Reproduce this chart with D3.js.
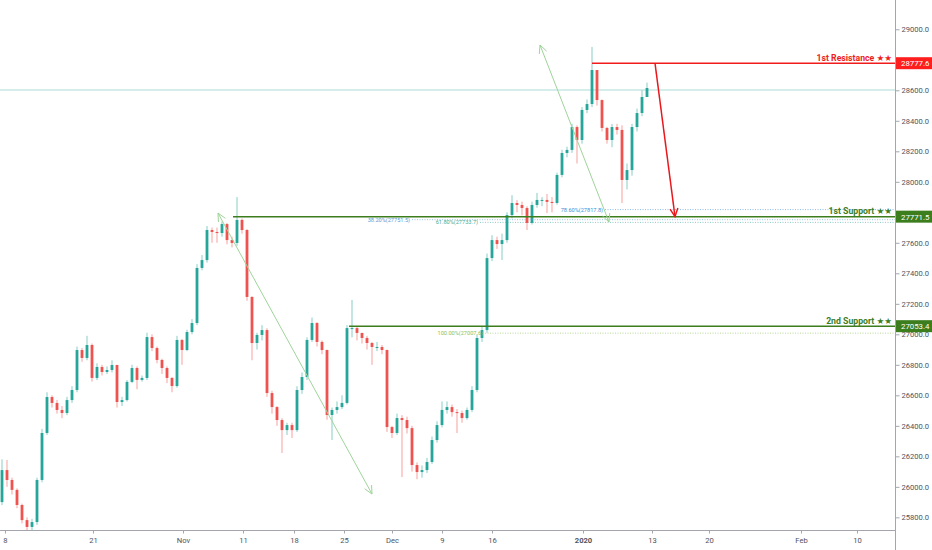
<!DOCTYPE html>
<html>
<head>
<meta charset="utf-8">
<script src="https://cdn.jsdelivr.net/npm/d3@7"></script>
<style>
  html, body { margin: 0; padding: 0; background: #fff; }
  svg { display: block; font-family: Roboto, "DejaVu Sans", sans-serif; }
</style>
</head>
<body>
<div class="chart"></div>
<script>
// US30 candles, one bar = half a trading day
const firstOpen = 25900
const closes = [
  26110, 26045, 25980, 25881, 25782, 25737, 25769, 26045, 26353, 26589,
  26550, 26504, 26484, 26569, 26635, 26897, 26845, 26930, 26714, 26786,
  26753, 26766, 26799, 26556, 26569, 26688, 26779, 26701, 26714, 26982,
  26910, 26832, 26779, 26714, 26661, 26963, 26897, 27015, 27074, 27435,
  27487, 27684, 27671, 27664, 27723, 27618, 27599, 27750, 27684, 27245,
  26943, 26996, 27028, 26615, 26523, 26438, 26372, 26405, 26372, 26635,
  26720, 26963, 27074, 26950, 26897, 26471, 26504, 26523, 26550, 27041,
  27041, 27009, 26976, 26943, 26917, 26917, 26897, 26392, 26353, 26451,
  26438, 26385, 26143, 26097, 26110, 26163, 26307, 26405, 26504, 26523,
  26490, 26484, 26451, 26504, 26635, 26976, 27028, 27500, 27618, 27592,
  27618, 27782, 27861, 27848, 27828, 27730, 27848, 27881, 27881, 27868,
  27861, 28045, 28189, 28209, 28359, 28274, 28471, 28510, 28733, 28536,
  28353, 28274, 28359, 28340, 28012, 28077, 28359, 28451, 28556, 28615
]
const highs = [
  26180, 26176, 26060, 25990, 25890, 25800, 25790, 26060, 26380, 26620,
  26600, 26570, 26530, 26590, 26660, 26920, 26910, 26990, 26940, 26810,
  26800, 26790, 26830, 26800, 26590, 26700, 26800, 26790, 26730, 27010,
  27000, 26920, 26840, 26790, 26720, 26990, 26970, 27030, 27100, 27460,
  27520, 27710, 27700, 27700, 27740, 27730, 27640, 27900, 27760, 27690,
  27250, 27010, 27060, 27040, 26630, 26530, 26450, 26420, 26420, 26660,
  26750, 26980, 27110, 27080, 26960, 26900, 26520, 26560, 26600, 27060,
  27225, 27050, 27010, 26990, 26950, 26950, 26930, 26900, 26400, 26480,
  26470, 26460, 26400, 26160, 26140, 26190, 26330, 26430, 26560, 26560,
  26540, 26510, 26500, 26520, 26660, 27000, 27050, 27530, 27650, 27640,
  27660, 27800, 27912, 27880, 27870, 27840, 27870, 27927, 27900, 27920,
  27900, 28060, 28210, 28230, 28380, 28370, 28490, 28540, 28884, 28700,
  28540, 28360, 28380, 28380, 28370, 28120, 28380, 28480, 28600, 28650
]
const lows = [
  25880, 26000, 25950, 25860, 25760, 25700, 25710, 25750, 26030, 26340,
  26520, 26480, 26450, 26470, 26550, 26620, 26820, 26830, 26690, 26700,
  26730, 26740, 26750, 26520, 26530, 26560, 26680, 26640, 26690, 26700,
  26890, 26810, 26740, 26680, 26620, 26650, 26800, 26890, 27000, 27060,
  27420, 27470, 27600, 27600, 27640, 27590, 27570, 27580, 27660, 27220,
  26830, 26900, 26960, 26590, 26480, 26400, 26222, 26340, 26320, 26360,
  26610, 26700, 26950, 26920, 26870, 26440, 26307, 26480, 26510, 26540,
  26980, 26960, 26940, 26900, 26800, 26890, 26870, 26360, 26320, 26340,
  26064, 26350, 26100, 26050, 26060, 26090, 26150, 26290, 26390, 26480,
  26460, 26353, 26420, 26440, 26490, 26620, 26950, 27010, 27480, 27560,
  27487, 27600, 27760, 27800, 27780, 27684, 27720, 27830, 27840, 27795,
  27800, 27850, 28030, 28160, 28190, 28120, 28250, 28450, 28490, 28500,
  28330, 28250, 28227, 28310, 27861, 27950, 28040, 28330, 28430, 28560
]

// time axis: labels and the bar they sit on
const tickLabels = ['8', '21', 'Nov', '11', '18', '25', 'Dec', '9', '16', '2020', '13', '20', 'Feb', '10']
const tickBars = [0.6, 18.2, 36.2, 48.2, 58.4, 68.4, 78, 88, 98, 116.2, 130, 141.4, 159.8, 171]
// price ticks shown (28800 and 27800 sit under the level boxes)
const priceTicks = [25800, 26000, 26200, 26400, 26600, 26800, 27000, 27200, 27400, 27600, 28000, 28200, 28400, 28600, 29000]

// drawn levels
const levelNames = ['1st Resistance ★★', '1st Support ★★', '2nd Support ★★']
const levelPrices = [28777.6, 27771.5, 27053.4]
const levelStartBars = [118, 46.2, 69.4]

const fibLabels = ['38.20%(27751.5)', '61.80%(27733.7)', '78.60%(27817.8)', '100.00%(27007.6)']
const fibPrices = [27751.5, 27733.7, 27817.8, 27007.6]
const fibStartBars = [81.6, 95.2, 120.2, 96.2]

// arrows [bar, price]
const trendFrom = [[43.2, 27795], [107.6, 28897]]
const trendTo = [[74, 25953], [121.4, 27736]]
const targetFrom = [130.6, 28777.6]
const targetTo = [134.6, 27771.5]

const lastPrice = 28602

const width = 932
const height = 550
const plotR = 895
const plotB = 530

const svg = d3.select('.chart')
    .append('svg')
    .attr('width', width)
    .attr('height', height)

const x = d3.scaleLinear().domain([0, 178.6]).range([2, plotR])
const y = d3.scaleLinear().domain([25717, 29192]).range([plotB, 0])

svg.append('clipPath').attr('id', 'plot')
    .append('rect').attr('width', plotR).attr('height', plotB)

const g = svg.append('g').attr('clip-path', 'url(#plot)')

// last price line
g.append('line')
    .attr('x1', 0).attr('x2', plotR)
    .attr('y1', y(lastPrice)).attr('y2', y(lastPrice))
    .attr('stroke', '#a9ddd6')
    .attr('stroke-width', 1)

// candles
const candles = closes.map((c, i) => ({
    i,
    o: i ? closes[i - 1] : firstOpen,
    c,
    h: highs[i],
    l: lows[i]
}))

const up = '#26a69a'
const down = '#ef5350'

const cg = g.selectAll('g.candle')
    .data(candles)
    .enter()
    .append('g')
    .attr('class', 'candle')

cg.append('line')
    .attr('x1', d => x(d.i)).attr('x2', d => x(d.i))
    .attr('y1', d => y(Math.max(d.h, d.o, d.c)))
    .attr('y2', d => y(Math.min(d.l, d.o, d.c)))
    .attr('stroke', d => d.c >= d.o ? up : down)
    .attr('stroke-opacity', 0.55)
    .attr('stroke-width', 1)

cg.append('rect')
    .attr('x', d => x(d.i) - 1.4)
    .attr('width', 2.8)
    .attr('y', d => y(Math.max(d.o, d.c)))
    .attr('height', d => Math.max(1, Math.abs(y(d.o) - y(d.c))))
    .attr('fill', d => d.c >= d.o ? up : down)

// fib levels
const fibColors = ['#5b9bd5', '#3fae9a', '#3d8fd8', '#8cbf5a']
fibPrices.forEach((p, k) => {
    g.append('line')
        .attr('x1', x(fibStartBars[k]) + 2).attr('x2', plotR)
        .attr('y1', y(p)).attr('y2', y(p))
        .attr('stroke', fibColors[k])
        .attr('stroke-opacity', 0.6)
        .attr('stroke-dasharray', '1,1.5')
        .attr('stroke-width', 1)
    g.append('text')
        .attr('x', x(fibStartBars[k]))
        .attr('y', y(p) + 2)
        .attr('text-anchor', 'end')
        .attr('font-size', 5.6)
        .attr('fill', fibColors[k])
        .text(fibLabels[k])
})

// horizontal levels
const levelColors = ['#f01c1c', '#3c7d1e', '#3c7d1e']
levelPrices.forEach((p, k) => {
    g.append('line')
        .attr('x1', x(levelStartBars[k])).attr('x2', plotR)
        .attr('y1', y(p)).attr('y2', y(p))
        .attr('stroke', levelColors[k])
        .attr('stroke-width', 1.5)
    g.append('text')
        .attr('x', plotR - 3)
        .attr('y', y(p) - 2.5)
        .attr('text-anchor', 'end')
        .attr('font-size', 8.7)
        .attr('font-weight', 'bold')
        .attr('fill', levelColors[k])
        .text(levelNames[k])
})

// arrows
const arrow = (from, to, color, w, both) => {
    const x1 = x(from[0]), y1 = y(from[1]), x2 = x(to[0]), y2 = y(to[1])
    g.append('line')
        .attr('x1', x1).attr('y1', y1).attr('x2', x2).attr('y2', y2)
        .attr('stroke', color).attr('stroke-width', w)
    const head = (ax, ay, bx, by) => {
        const a = Math.atan2(by - ay, bx - ax)
        const len = 9
        const pts = [a + Math.PI - 0.45, a + Math.PI + 0.45].map(t => [bx + len * Math.cos(t), by + len * Math.sin(t)])
        g.append('path')
            .attr('d', `M${pts[0][0]},${pts[0][1]}L${bx},${by}L${pts[1][0]},${pts[1][1]}`)
            .attr('fill', 'none')
            .attr('stroke', color).attr('stroke-width', w)
    }
    head(x1, y1, x2, y2)
    if (both) head(x2, y2, x1, y1)
}

trendFrom.forEach((f, k) => arrow(f, trendTo[k], '#9fd49a', 1, true))
arrow(targetFrom, targetTo, '#e8191c', 1.5, false)

// axes
const axisColor = '#a3a6ad'
const textColor = '#50535e'

const yAxis = svg.append('g')
    .attr('transform', `translate(${plotR + 0.5},0)`)
    .call(d3.axisRight(y).tickValues(priceTicks).tickSize(4).tickFormat(d => d.toFixed(1)))
yAxis.select('.domain').remove()
yAxis.selectAll('line').attr('stroke', axisColor)
yAxis.selectAll('text').attr('fill', textColor).attr('font-size', 7.6).attr('font-family', 'Roboto, sans-serif').attr('x', 6)

const xAxis = svg.append('g')
    .attr('transform', `translate(0,${plotB + 0.5})`)
    .call(d3.axisBottom(x).tickValues(tickBars).tickSize(3).tickFormat((d, k) => tickLabels[k]))
xAxis.select('.domain').remove()
xAxis.selectAll('line').attr('stroke', axisColor)
xAxis.selectAll('text')
    .attr('fill', textColor)
    .attr('font-size', 7.6)
    .attr('font-family', 'Roboto, sans-serif')
    .attr('y', 7)
    .attr('font-weight', (d, k) => tickLabels[k] === '2020' ? 'bold' : 'normal')

svg.append('line')
    .attr('x1', plotR + 0.5).attr('x2', plotR + 0.5)
    .attr('y1', 0).attr('y2', height)
    .attr('stroke', axisColor)
svg.append('line')
    .attr('x1', 0).attr('x2', plotR)
    .attr('y1', plotB + 0.5).attr('y2', plotB + 0.5)
    .attr('stroke', axisColor)

// price boxes on the axis
const boxColors = ['#ff1e1e', '#3c7d1e', '#3c7d1e']
levelPrices.forEach((p, k) => {
    svg.append('rect')
        .attr('x', plotR + 1).attr('y', y(p) - 6)
        .attr('width', width - plotR - 1).attr('height', 12)
        .attr('fill', boxColors[k])
    svg.append('text')
        .attr('x', plotR + 6).attr('y', y(p) + 3)
        .attr('font-size', 7.8)
        .attr('fill', '#fff')
        .text(p.toFixed(1))
})
</script>
</body>
</html>
